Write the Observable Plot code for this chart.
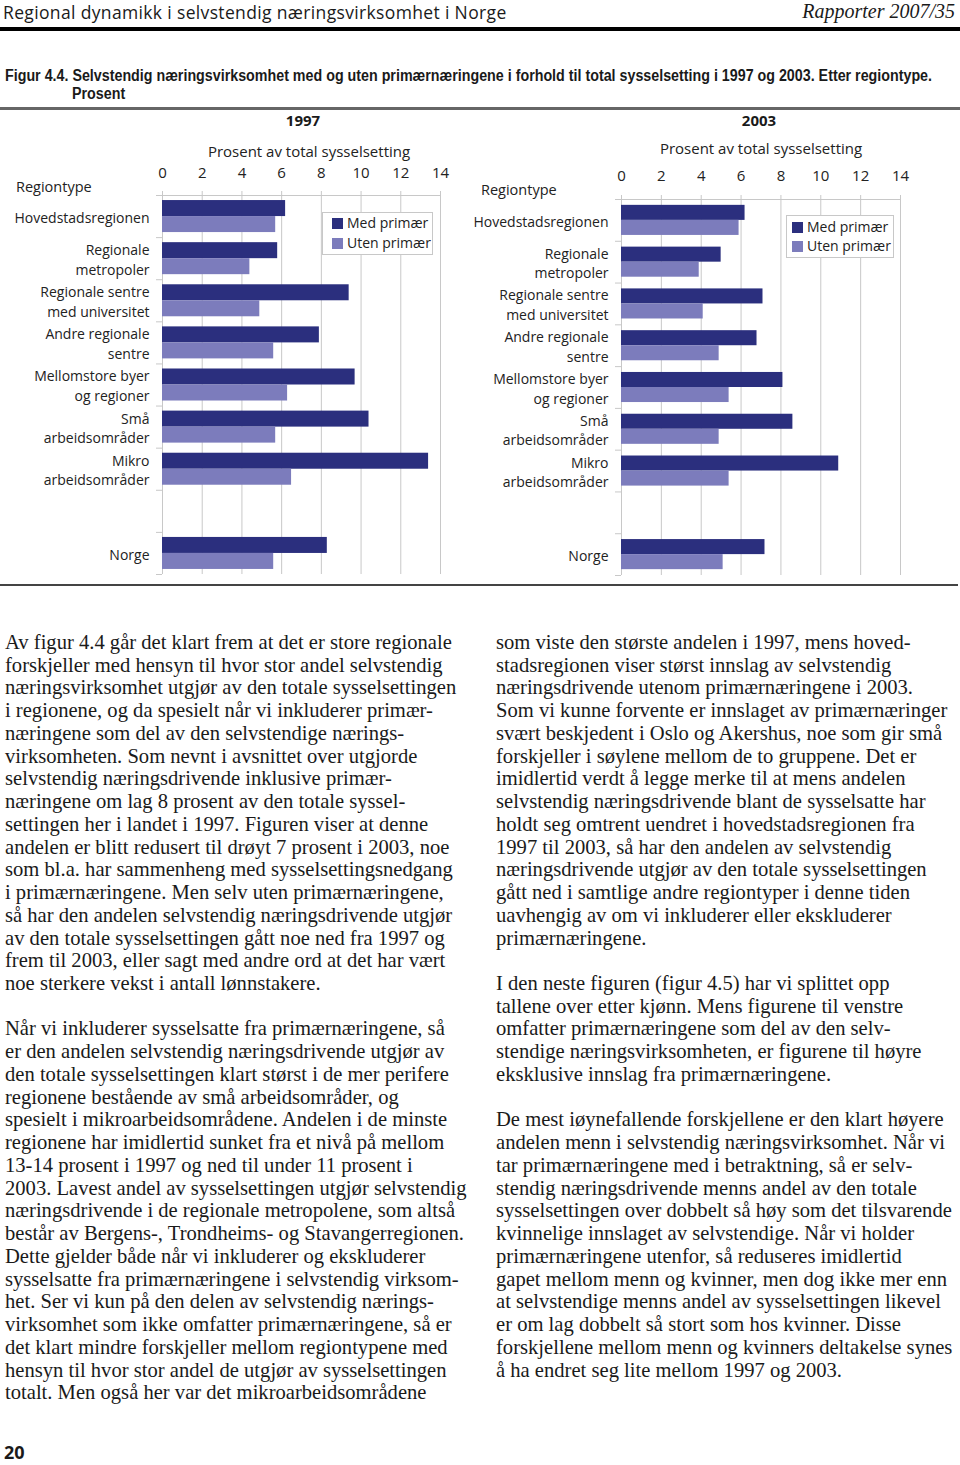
<!DOCTYPE html>
<html>
<head>
<meta charset="utf-8">
<script src="https://cdn.jsdelivr.net/npm/d3@7"></script>
<script src="https://cdn.jsdelivr.net/npm/@observablehq/plot@0.6"></script>
<style>
  body { margin:0; width:960px; height:1465px; position:relative; background:#fff; overflow:hidden; font-family:"Open Sans", sans-serif; color:#1a1a1a; }
  .abs { position:absolute; white-space:nowrap; }
  .rule { position:absolute; left:0; width:960px; }
  .body-text { position:absolute; font-family:"Liberation Serif", serif; font-size:20.6px; line-height:22.73px; white-space:nowrap; color:#1a1a1a; }
  .chart { position:absolute; top:110px; }
  .chart svg { overflow:visible; }
  .chart svg g[aria-label="x-axis tick"] path { stroke:#c8c8c8; }
  .legend { position:absolute; background:#fff; border:1px solid #c8c8c8; font-size:14px; color:#222; }
  .legend div { position:absolute; left:9px; white-space:nowrap; line-height:20px; }
  .legend span { display:inline-block; width:11px; height:11px; margin-right:4px; vertical-align:-1px; }
  .ctr { transform:translate(-50%,-50%); }
  .axlab { font-size:15px; line-height:15px; color:#222; }
  .cap { font-family:"Liberation Sans", Arial, sans-serif; font-weight:bold; font-size:16px; line-height:18px; transform-origin:left center; }
</style>
</head>
<body>
<div class="abs" style="left:3px;top:0px;font-size:17.5px;letter-spacing:0.35px;">Regional dynamikk i selvstendig næringsvirksomhet i Norge</div>
<div class="abs" style="right:5px;top:0px;font-family:'Liberation Serif',serif;font-style:italic;font-size:20px;line-height:22px;">Rapporter 2007/35</div>
<div class="rule" style="top:27px;height:4px;background:#000;"></div>

<div id="cap1" class="abs cap" style="left:5px;top:67px;">Figur 4.4. Selvstendig næringsvirksomhet med og uten primærnæringene i forhold til total sysselsetting i 1997 og 2003. Etter regiontype.</div>
<div id="cap2" class="abs cap" style="left:72px;top:85px;">Prosent</div>
<div class="rule" style="top:107px;height:3px;background:#666;"></div>

<div id="c1997" class="chart" style="left:0px;"></div>
<div id="c2003" class="chart" style="left:470px;"></div>

<div class="abs ctr" style="left:303px;top:120px;font-weight:bold;font-size:15px;line-height:16px;">1997</div>
<div class="abs ctr" style="left:759px;top:120px;font-weight:bold;font-size:15px;line-height:16px;">2003</div>
<div class="abs ctr axlab" style="left:309px;top:151px;">Prosent av total sysselsetting</div>
<div class="abs ctr axlab" style="left:761px;top:148px;">Prosent av total sysselsetting</div>
<div class="abs" style="left:16px;top:179px;font-size:14.5px;line-height:16px;color:#222;">Regiontype</div>
<div class="abs" style="left:481px;top:182px;font-size:14.5px;line-height:16px;color:#222;">Regiontype</div>

<div class="legend" style="left:322px;top:212px;width:109px;height:41px;">
  <div style="top:0px;"><span id="lm1"></span>Med primær</div>
  <div style="top:20px;"><span id="lu1"></span>Uten primær</div>
</div>
<div class="legend" style="left:786px;top:215px;width:106px;height:41px;">
  <div style="top:1px;left:5px;"><span id="lm2"></span>Med primær</div>
  <div style="top:20px;left:5px;"><span id="lu2"></span>Uten primær</div>
</div>

<div class="rule" style="top:584px;height:2px;width:958px;background:#444;"></div>

<div class="body-text" style="left:5px;top:631px;">Av figur 4.4 går det klart frem at det er store regionale<br>forskjeller med hensyn til hvor stor andel selvstendig<br>næringsvirksomhet utgjør av den totale sysselsettingen<br>i regionene, og da spesielt når vi inkluderer primær-<br>næringene som del av den selvstendige nærings-<br>virksomheten. Som nevnt i avsnittet over utgjorde<br>selvstendig næringsdrivende inklusive primær-<br>næringene om lag 8 prosent av den totale syssel-<br>settingen her i landet i 1997. Figuren viser at denne<br>andelen er blitt redusert til drøyt 7 prosent i 2003, noe<br>som bl.a. har sammenheng med sysselsettingsnedgang<br>i primærnæringene. Men selv uten primærnæringene,<br>så har den andelen selvstendig næringsdrivende utgjør<br>av den totale sysselsettingen gått noe ned fra 1997 og<br>frem til 2003, eller sagt med andre ord at det har vært<br>noe sterkere vekst i antall lønnstakere.<br>&nbsp;<br>Når vi inkluderer sysselsatte fra primærnæringene, så<br>er den andelen selvstendig næringsdrivende utgjør av<br>den totale sysselsettingen klart størst i de mer perifere<br>regionene bestående av små arbeidsområder, og<br>spesielt i mikroarbeidsområdene. Andelen i de minste<br>regionene har imidlertid sunket fra et nivå på mellom<br>13-14 prosent i 1997 og ned til under 11 prosent i<br>2003. Lavest andel av sysselsettingen utgjør selvstendig<br>næringsdrivende i de regionale metropolene, som altså<br>består av Bergens-, Trondheims- og Stavangerregionen.<br>Dette gjelder både når vi inkluderer og ekskluderer<br>sysselsatte fra primærnæringene i selvstendig virksom-<br>het. Ser vi kun på den delen av selvstendig nærings-<br>virksomhet som ikke omfatter primærnæringene, så er<br>det klart mindre forskjeller mellom regiontypene med<br>hensyn til hvor stor andel de utgjør av sysselsettingen<br>totalt. Men også her var det mikroarbeidsområdene</div>

<div class="body-text" style="left:496px;top:631px;">som viste den største andelen i 1997, mens hoved-<br>stadsregionen viser størst innslag av selvstendig<br>næringsdrivende utenom primærnæringene i 2003.<br>Som vi kunne forvente er innslaget av primærnæringer<br>svært beskjedent i Oslo og Akershus, noe som gir små<br>forskjeller i søylene mellom de to gruppene. Det er<br>imidlertid verdt å legge merke til at mens andelen<br>selvstendig næringsdrivende blant de sysselsatte har<br>holdt seg omtrent uendret i hovedstadsregionen fra<br>1997 til 2003, så har den andelen av selvstendig<br>næringsdrivende utgjør av den totale sysselsettingen<br>gått ned i samtlige andre regiontyper i denne tiden<br>uavhengig av om vi inkluderer eller ekskluderer<br>primærnæringene.<br>&nbsp;<br>I den neste figuren (figur 4.5) har vi splittet opp<br>tallene over etter kjønn. Mens figurene til venstre<br>omfatter primærnæringene som del av den selv-<br>stendige næringsvirksomheten, er figurene til høyre<br>eksklusive innslag fra primærnæringene.<br>&nbsp;<br>De mest iøynefallende forskjellene er den klart høyere<br>andelen menn i selvstendig næringsvirksomhet. Når vi<br>tar primærnæringene med i betraktning, så er selv-<br>stendig næringsdrivende menns andel av den totale<br>sysselsettingen over dobbelt så høy som det tilsvarende<br>kvinnelige innslaget av selvstendige. Når vi holder<br>primærnæringene utenfor, så reduseres imidlertid<br>gapet mellom menn og kvinner, men dog ikke mer enn<br>at selvstendige menns andel av sysselsettingen likevel<br>er om lag dobbelt så stort som hos kvinner. Disse<br>forskjellene mellom menn og kvinners deltakelse synes<br>å ha endret seg lite mellom 1997 og 2003.</div>

<div class="abs" style="left:4px;top:1440px;font-weight:bold;font-size:18px;">20</div>

<script>
// ---- data ----
const categories = ["Hovedstadsregionen", "Regionale metropoler", "Regionale sentre med universitet",
  "Andre regionale sentre", "Mellomstore byer og regioner", "Små arbeidsområder",
  "Mikro arbeidsområder", "Norge"];
const categoryLabels = ["Hovedstadsregionen", "Regionale\nmetropoler", "Regionale sentre\nmed universitet",
  "Andre regionale\nsentre", "Mellomstore byer\nog regioner", "Små\narbeidsområder",
  "Mikro\narbeidsområder", "Norge"];
const spacer = " ";
const series = ["Med primær", "Uten primær"];
const seriesColors = ["#2b2f7e", "#7c7cbc"];
const med1997  = [6.2, 5.8, 9.4, 7.9, 9.7, 10.4, 13.4, 8.3];
const uten1997 = [5.7, 4.4, 4.9, 5.6, 6.3, 5.7, 6.5, 5.6];
const med2003  = [6.2, 5.0, 7.1, 6.8, 8.1, 8.6, 10.9, 7.2];
const uten2003 = [5.9, 3.9, 4.1, 4.9, 5.4, 4.9, 5.4, 5.1];
const xTicks = [0, 2, 4, 6, 8, 10, 12, 14];

// y domain: seven region types, an empty row, then Norge
const yDomain = [...categories.slice(0, 7), spacer, categories[7]];
const yLabels = [...categoryLabels.slice(0, 7), "", categoryLabels[7]];

document.getElementById("lm1").style.background = seriesColors[0];
document.getElementById("lm2").style.background = seriesColors[0];
document.getElementById("lu1").style.background = seriesColors[1];
document.getElementById("lu2").style.background = seriesColors[1];

// condensed caption: squeeze the bold caption to the reference line width
function fitCaption() {
  const c1 = document.getElementById("cap1"), c2 = document.getElementById("cap2");
  c1.style.transform = "none"; c2.style.transform = "none";
  const s = 927 / c1.getBoundingClientRect().width;
  c1.style.transform = `scaleX(${s})`;
  c2.style.transform = `scaleX(${s})`;
}
fitCaption();
if (document.fonts && document.fonts.ready) document.fonts.ready.then(fitCaption);

function panel({med, uten, width, height, marginLeft, marginRight, marginTop, marginBottom, paddingInner, tickPadding}) {
  const rows = categories.flatMap((c, i) => [
    {region: c, series: series[0], value: med[i]},
    {region: c, series: series[1], value: uten[i]}
  ]);
  const paddingOuter = paddingInner / 2;
  const step = (height - marginTop - marginBottom) / (yDomain.length - paddingInner + 2 * paddingOuter);
  const half = step * (1 - paddingInner) / 2;
  const grey = "#c8c8c8";
  return Plot.plot({
    width, height, marginLeft, marginRight, marginTop, marginBottom,
    style: {fontFamily: "'Open Sans', sans-serif", fontSize: "15px", color: "#222", background: "transparent", overflow: "visible"},
    x: {domain: [0, 14], axis: null},
    y: {domain: yDomain, paddingInner, paddingOuter, round: false, axis: null},
    color: {domain: series, range: seriesColors},
    marks: [
      Plot.gridX(xTicks, {stroke: grey, strokeOpacity: 1}),
      Plot.frame({anchor: "top", stroke: grey}),
      // category boundary ticks on the left edge (Excel style)
      Plot.ruleY(yDomain, {y: d => d, x1: 0, x2: 0, insetLeft: -6, dy: -step / 2, stroke: grey}),
      Plot.ruleY(yDomain.slice(-1), {y: d => d, x1: 0, x2: 0, insetLeft: -6, dy: step / 2, stroke: grey}),
      Plot.axisX(xTicks, {anchor: "top", tickSize: 5, tickPadding, label: null, fontSize: 15}),
      Plot.barX(rows.filter(d => d.series === series[0]), {x: "value", y: "region", fill: "series", insetBottom: half}),
      Plot.barX(rows.filter(d => d.series === series[1]), {x: "value", y: "region", fill: "series", insetTop: half}),
      Plot.text(yDomain, {y: d => d, text: (d, i) => yLabels[i], frameAnchor: "left", textAnchor: "end",
        dx: -13, fontSize: 14, lineHeight: 1.4, fill: "#222"})
    ]
  });
}

document.getElementById("c1997").append(panel({
  med: med1997, uten: uten1997, width: 470, height: 470,
  marginLeft: 162, marginRight: 30, marginTop: 85, marginBottom: 6, paddingInner: 0.24, tickPadding: 13
}));
document.getElementById("c2003").append(panel({
  med: med2003, uten: uten2003, width: 490, height: 470,
  marginLeft: 151, marginRight: 60, marginTop: 89, marginBottom: 5, paddingInner: 0.28, tickPadding: 14
}));
</script>
</body>
</html>
